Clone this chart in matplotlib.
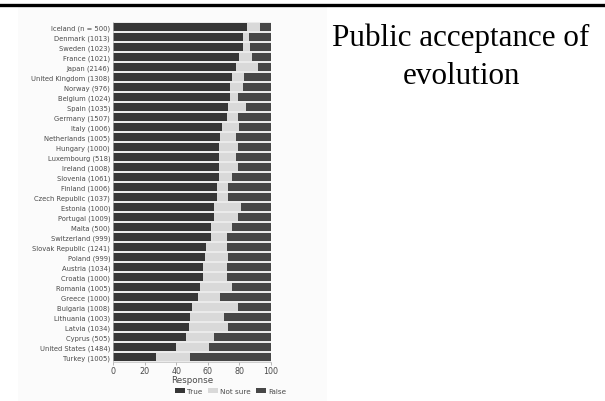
import matplotlib
matplotlib.use("Agg")
import matplotlib.pyplot as plt
import numpy as np
from matplotlib.patches import Rectangle
from matplotlib.lines import Line2D

countries = ["Iceland (n = 500)", "Denmark (1013)", "Sweden (1023)", "France (1021)",
             "Japan (2146)", "United Kingdom (1308)", "Norway (976)", "Belgium (1024)",
             "Spain (1035)", "Germany (1507)", "Italy (1006)", "Netherlands (1005)",
             "Hungary (1000)", "Luxembourg (518)", "Ireland (1008)", "Slovenia (1061)",
             "Finland (1006)", "Czech Republic (1037)", "Estonia (1000)", "Portugal (1009)",
             "Malta (500)", "Switzerland (999)", "Slovak Republic (1241)", "Poland (999)",
             "Austria (1034)", "Croatia (1000)", "Romania (1005)", "Greece (1000)",
             "Bulgaria (1008)", "Lithuania (1003)", "Latvia (1034)", "Cyprus (505)",
             "United States (1484)", "Turkey (1005)"]
true_pct = [85, 82, 82, 80, 78, 75, 74, 74, 73, 72, 69, 68, 67, 67, 67, 67, 66, 66,
            64, 64, 62, 62, 59, 58, 57, 57, 55, 54, 50, 49, 48, 46, 40, 27]
notsure_pct = [8, 4, 5, 8, 14, 8, 8, 5, 11, 7, 11, 10, 12, 11, 12, 8, 7, 7,
               17, 15, 13, 10, 13, 15, 15, 15, 20, 14, 29, 21, 25, 18, 21, 22]
false_pct = [100 - t - n for t, n in zip(true_pct, notsure_pct)]
xticks = [0, 20, 40, 60, 80, 100]

W, H = 605, 402
fig = plt.figure(figsize=(6.05, 4.02), dpi=100)
fig.patch.set_facecolor("white")

# embedded image background
fig.add_artist(Rectangle((18 / W, 0), (327 - 18) / W, (H - 8) / H,
                         transform=fig.transFigure, facecolor="#fbfbfb",
                         edgecolor="none", zorder=0))
# top rule
fig.add_artist(Line2D([0, 1], [1 - 5.5 / H, 1 - 5.5 / H], transform=fig.transFigure,
                      color="black", linewidth=2.4))

ax = fig.add_axes([113 / W, 1 - 363 / H, 158 / W, 340 / H])
ax.set_facecolor("#ebebeb")
y = np.arange(len(countries))
c_true, c_ns, c_false = "#363636", "#d9d9d9", "#474747"
ax.barh(y, true_pct, height=0.72, color=c_true, label="True")
ax.barh(y, notsure_pct, left=true_pct, height=0.72, color=c_ns, label="Not sure")
left2 = [t + n for t, n in zip(true_pct, notsure_pct)]
ax.barh(y, false_pct, left=left2, height=0.72, color=c_false, label="False")

ax.set_xlim(0, 100)
ax.set_ylim(len(countries) - 0.5, -0.5)
ax.set_yticks(y)
fam = ["Liberation Sans Narrow", "DejaVu Sans"]
ax.set_yticklabels(countries, fontsize=4.9, color="#4a4a4a", family=fam)
ax.set_xticks(xticks)
ax.set_xticklabels([str(v) for v in xticks], fontsize=5.8, color="#4a4a4a", family=fam)
ax.tick_params(axis="y", length=0, pad=2)
ax.tick_params(axis="x", length=2, width=0.5, color="#999999", pad=1)
for s in ["top", "right"]:
    ax.spines[s].set_visible(False)
for s in ["left", "bottom"]:
    ax.spines[s].set_color("#bbbbbb")
    ax.spines[s].set_linewidth(0.5)
ax.set_xlabel("Response", fontsize=6.3, color="#4a4a4a", family=fam, labelpad=0)

leg = ax.legend(loc="center", bbox_to_anchor=(0.745, -0.085), ncol=3, frameon=False,
                prop={"family": fam, "size": 5.2}, handlelength=1.3, handleheight=0.7,
                handletextpad=0.3, columnspacing=0.8, borderaxespad=0, borderpad=0)
for t in leg.get_texts():
    t.set_color("#4a4a4a")

fig.text(461 / W, 1 - 38 / H, "Public acceptance of", ha="center", va="center",
         fontsize=22.4, family="Liberation Serif", color="black")
fig.text(461 / W, 1 - 77 / H, "evolution", ha="center", va="center",
         fontsize=22.4, family="Liberation Serif", color="black")

fig.savefig("out.png", dpi=100, facecolor="white")
